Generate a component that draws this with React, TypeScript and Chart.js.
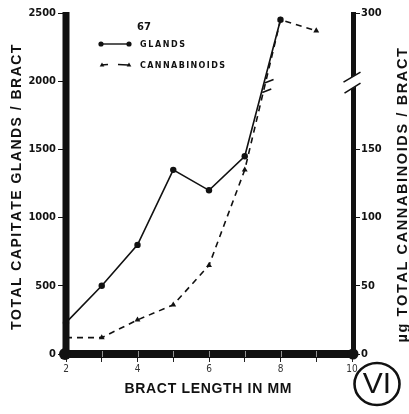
import React, { useEffect, useRef } from 'react';
import { Chart, registerables } from 'chart.js';

Chart.register(...registerables);

// ---- data ----
const bractLength = [2, 3, 4, 5, 6, 7, 8, 9];
const glands: (number | null)[] = [230, 500, 800, 1350, 1200, 1450, 2450, null];
const cannabinoids = [12, 12, 25, 36, 65, 135, 295, 287];
const xTickLabels = [2, 4, 6, 8, 10];
const xMinorTicks = [2, 3, 4, 5, 6, 7, 8, 9, 10];
const leftTicks = [0, 500, 1000, 1500, 2000, 2500];
const rightTickLabels = [0, 50, 100, 150, 300];

// right axis has a break: values above 250 are drawn shifted down by 50
const BREAK_AT = 200;
const BREAK_SHIFT = 50;
const toAxis = (v: number) => (v > BREAK_AT ? v - BREAK_SHIFT : v);
const fromAxis = (v: number) => (v > BREAK_AT ? v + BREAK_SHIFT : v);

const NUM_FONT = "'DejaVu Sans Condensed', 'Liberation Sans Narrow', sans-serif";
const TITLE_FONT = "'Liberation Sans', Arial, sans-serif";
const LEGEND_FONT = "'DejaVu Sans', sans-serif";
const VI_FONT = "'Liberation Sans', Arial, sans-serif";
const INK = '#111';

// draw text at a fixed font size, spreading letters to reach the target width
function drawSpaced(
  ctx: CanvasRenderingContext2D,
  text: string,
  x: number,
  y: number,
  width: number,
  size: number,
  rot: number,
  weight: string,
  family: string,
  align: 'center' | 'left' = 'center'
) {
  ctx.save();
  ctx.font = `${weight} ${size}px ${family}`;
  const w = ctx.measureText(text).width;
  const sp = (width - w) / Math.max(1, text.length - 1);
  ctx.translate(x, y);
  ctx.rotate(rot);
  ctx.textBaseline = 'middle';
  ctx.textAlign = 'left';
  ctx.fillStyle = INK;
  const start = align === 'center' ? -width / 2 : 0;
  let cx = start;
  for (const ch of text) {
    ctx.fillText(ch, cx, 0);
    cx += ctx.measureText(ch).width + sp;
  }
  ctx.restore();
}

function drawTriangle(ctx: CanvasRenderingContext2D, x: number, y: number, r: number) {
  ctx.beginPath();
  ctx.moveTo(x, y - r);
  ctx.lineTo(x + r * 0.9, y + r * 0.6);
  ctx.lineTo(x - r * 0.9, y + r * 0.6);
  ctx.closePath();
  ctx.fill();
}

const decorPlugin = {
  id: 'decor',
  afterDraw(chart: any) {
    const ctx: CanvasRenderingContext2D = chart.ctx;
    const { left, right, top, bottom } = chart.chartArea;
    const xs = chart.scales.x;
    const y2 = chart.scales.y2;
    ctx.save();
    ctx.fillStyle = INK;
    ctx.strokeStyle = INK;

    // left axis bar
    ctx.fillRect(left - 3.5, top - 1, 7, bottom - top + 4);
    // bottom axis bar
    ctx.fillRect(left - 3.5, bottom - 4, right - left + 7, 8);
    // light separators on bottom bar
    ctx.strokeStyle = 'rgba(255,255,255,0.55)';
    ctx.lineWidth = 1;
    xMinorTicks.slice(1, -1).forEach((v) => {
      const px = Math.round(xs.getPixelForValue(v)) + 0.5;
      ctx.beginPath();
      ctx.moveTo(px, bottom - 3);
      ctx.lineTo(px, bottom + 3);
      ctx.stroke();
    });
    // corner blobs
    ctx.fillStyle = INK;
    ctx.beginPath();
    ctx.arc(left - 1, bottom, 6, 0, Math.PI * 2);
    ctx.fill();
    ctx.beginPath();
    ctx.arc(right + 1, bottom, 5.5, 0, Math.PI * 2);
    ctx.fill();

    // right axis bar with break
    const bx = right + 1.5;
    const yBreak = y2.getPixelForValue(BREAK_AT + 3);
    ctx.fillRect(bx - 2.5, top - 1, 5, bottom - top + 3);
    ctx.fillStyle = '#fff';
    ctx.beginPath();
    ctx.moveTo(bx - 12, yBreak + 6);
    ctx.lineTo(bx + 10, yBreak - 7);
    ctx.lineTo(bx + 10, yBreak + 5);
    ctx.lineTo(bx - 12, yBreak + 18);
    ctx.closePath();
    ctx.fill();
    ctx.strokeStyle = INK;
    ctx.lineWidth = 1.6;
    ctx.beginPath();
    ctx.moveTo(bx - 10, yBreak + 5);
    ctx.lineTo(bx + 7, yBreak - 5);
    ctx.moveTo(bx - 9, yBreak + 16);
    ctx.lineTo(bx + 7, yBreak + 6);
    ctx.stroke();

    // break marks on the data line between 7 and 8 mm
    const p7x = xs.getPixelForValue(7), p7y = y2.getPixelForValue(toAxis(cannabinoids[5]));
    const p8x = xs.getPixelForValue(8), p8y = y2.getPixelForValue(toAxis(cannabinoids[6]));
    [BREAK_AT - 8, BREAK_AT - 1].forEach((v) => {
      const py = y2.getPixelForValue(v);
      const t = (py - p7y) / (p8y - p7y);
      const px = p7x + t * (p8x - p7x);
      ctx.beginPath();
      ctx.moveTo(px - 1, py + 0.5);
      ctx.lineTo(px + 8, py - 3);
      ctx.stroke();
    });

    // axis titles
    drawSpaced(ctx, 'TOTAL CAPITATE GLANDS / BRACT', 17, 189, 282, 14, -Math.PI / 2, 'bold', TITLE_FONT);
    drawSpaced(ctx, 'µg TOTAL CANNABINOIDS / BRACT', 403, 196, 293, 14.5, -Math.PI / 2, 'bold', TITLE_FONT);
    drawSpaced(ctx, 'BRACT LENGTH IN MM', 208, 389, 167, 14, 0, 'bold', TITLE_FONT);

    // legend
    ctx.fillStyle = INK;
    ctx.font = `bold 10px ${LEGEND_FONT}`;
    ctx.textAlign = 'left';
    ctx.textBaseline = 'middle';
    ctx.fillText('67', 137, 27);
    ctx.lineWidth = 1.4;
    ctx.setLineDash([]);
    ctx.beginPath();
    ctx.moveTo(101, 44);
    ctx.lineTo(129, 44);
    ctx.stroke();
    ctx.beginPath();
    ctx.arc(101, 44, 2.6, 0, Math.PI * 2);
    ctx.arc(129, 44, 2.6, 0, Math.PI * 2);
    ctx.fill();
    ctx.beginPath();
    ctx.moveTo(101, 65);
    ctx.lineTo(108, 64.5);
    ctx.moveTo(118, 64.5);
    ctx.lineTo(128, 65);
    ctx.stroke();
    drawTriangle(ctx, 102, 65, 2.6);
    drawTriangle(ctx, 129, 65, 2.6);
    drawSpaced(ctx, 'GLANDS', 140, 44.5, 45, 8, 0, 'bold', LEGEND_FONT, 'left');
    drawSpaced(ctx, 'CANNABINOIDS', 140, 65.5, 85, 8, 0, 'bold', LEGEND_FONT, 'left');

    // circled VI
    ctx.fillStyle = INK;
    ctx.strokeStyle = INK;
    ctx.lineWidth = 2.6;
    ctx.beginPath();
    ctx.ellipse(377, 384, 22.5, 21, 0, 0, Math.PI * 2);
    ctx.stroke();
    ctx.font = `30px ${VI_FONT}`;
    ctx.textAlign = 'center';
    ctx.textBaseline = 'middle';
    ctx.fillText('VI', 377, 385);

    ctx.restore();
  },
};

export default function App() {
  const ref = useRef<HTMLCanvasElement | null>(null);

  useEffect(() => {
    if (!ref.current) return;
    const glandPts = bractLength
      .map((x, i) => ({ x, y: glands[i] }))
      .filter((p) => p.y !== null) as { x: number; y: number }[];
    const cannPts = bractLength.map((x, i) => ({ x, y: toAxis(cannabinoids[i]) }));

    const chart = new Chart(ref.current, {
      type: 'line',
      data: {
        datasets: [
          {
            label: 'GLANDS',
            data: glandPts,
            yAxisID: 'y',
            borderColor: INK,
            borderWidth: 1.6,
            pointRadius: 3.2,
            pointBackgroundColor: INK,
            pointBorderWidth: 0,
            tension: 0,
            clip: 8,
          },
          {
            label: 'CANNABINOIDS',
            data: cannPts,
            yAxisID: 'y2',
            borderColor: INK,
            borderWidth: 1.6,
            borderDash: [6, 5],
            pointStyle: 'triangle',
            pointRadius: 3.4,
            pointBackgroundColor: INK,
            pointBorderWidth: 0,
            tension: 0,
            clip: 8,
          },
        ],
      },
      options: {
        animation: false,
        responsive: false,
        maintainAspectRatio: false,
        layout: { padding: { top: 13, left: 0, right: 0, bottom: 0 } },
        plugins: { legend: { display: false }, tooltip: { enabled: false } },
        scales: {
          x: {
            type: 'linear',
            min: 2,
            max: 10,
            afterFit(s: any) {
              s.height = 60;
            },
            afterBuildTicks(s: any) {
              s.ticks = xMinorTicks.map((v) => ({ value: v }));
            },
            ticks: {
              autoSkip: false,
              maxRotation: 0,
              padding: 1,
              color: '#333',
              font: { family: NUM_FONT, size: 10 },
              callback: (v: any) => (xTickLabels.includes(Number(v)) ? String(v) : ''),
            },
            grid: { drawOnChartArea: false, tickLength: 8, color: '#222', lineWidth: 1 },
            border: { display: false },
          },
          y: {
            position: 'left',
            min: 0,
            max: 2500,
            afterFit(s: any) {
              s.width = 66;
            },
            afterBuildTicks(s: any) {
              s.ticks = leftTicks.map((v) => ({ value: v }));
            },
            ticks: {
              padding: 2,
              color: INK,
              font: { family: NUM_FONT, size: 11, weight: 'bold' },
              callback: (v: any) => String(v),
            },
            grid: { drawOnChartArea: false, tickLength: 8, color: INK, lineWidth: 1 },
            border: { display: false },
          },
          y2: {
            position: 'right',
            min: 0,
            max: 250,
            afterFit(s: any) {
              s.width = 57;
            },
            afterBuildTicks(s: any) {
              s.ticks = rightTickLabels.map((v) => ({ value: toAxis(v) }));
            },
            ticks: {
              padding: 1,
              color: INK,
              font: { family: NUM_FONT, size: 11, weight: 'bold' },
              callback: (v: any) => String(fromAxis(Number(v))),
            },
            grid: { drawOnChartArea: false, tickLength: 8, color: INK, lineWidth: 1 },
            border: { display: false },
          },
        },
      },
      plugins: [decorPlugin],
    });
    return () => chart.destroy();
  }, []);

  return (
    <div style={{ position: 'fixed', left: 0, top: 0, width: 409, height: 414, background: '#fff' }}>
      <canvas ref={ref} width={409} height={414} style={{ display: 'block' }} />
    </div>
  );
}
